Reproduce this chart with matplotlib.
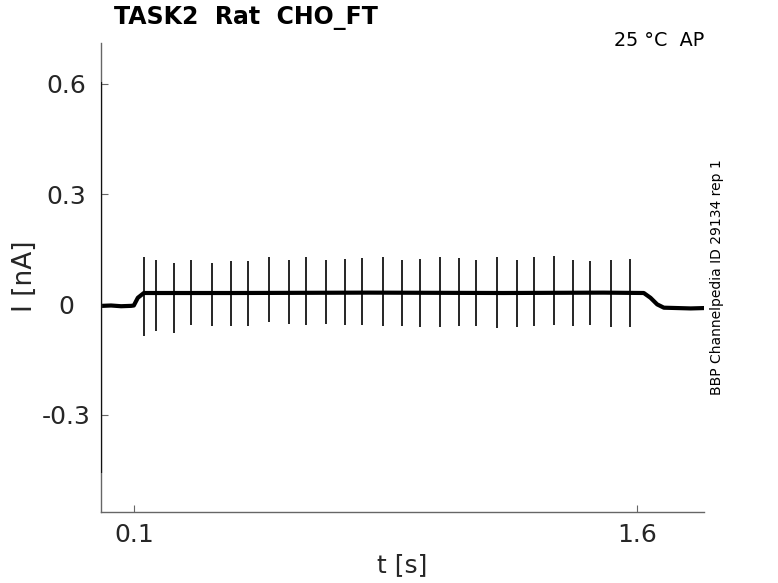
import numpy as np
import matplotlib
matplotlib.use("Agg")
import matplotlib.pyplot as plt

# Baseline / holding current (t in s, I in nA)
base_t = [0.0, 0.005, 0.03, 0.06, 0.09, 0.098, 0.11, 0.128, 0.4, 0.8, 1.2, 1.5, 1.62, 1.64, 1.66, 1.68, 1.72, 1.76, 1.8]
base_i = [-0.004, -0.004, -0.003, -0.005, -0.004, -0.003, 0.018, 0.031, 0.031, 0.032, 0.031, 0.032, 0.031, 0.018, 0.0, -0.009, -0.010, -0.011, -0.010]

# Capacitive transient at the start of the sweep
trans_t = 0.001
trans_max = 0.605
trans_min = -0.46

# Action-potential spikes: time, peak and trough
spike_t = [0.127, 0.163, 0.217, 0.270, 0.330, 0.387, 0.438, 0.500, 0.560,
           0.611, 0.671, 0.727, 0.778, 0.841, 0.898, 0.952, 1.011, 1.068,
           1.119, 1.182, 1.241, 1.292, 1.352, 1.409, 1.459, 1.522, 1.579]
spike_max = [0.130, 0.120, 0.114, 0.121, 0.114, 0.117, 0.118, 0.128, 0.121,
             0.130, 0.120, 0.124, 0.126, 0.128, 0.121, 0.124, 0.128, 0.125,
             0.122, 0.128, 0.121, 0.130, 0.132, 0.121, 0.117, 0.121, 0.123]
spike_min = [-0.086, -0.073, -0.077, -0.055, -0.060, -0.059, -0.060, -0.049, -0.054,
             -0.057, -0.054, -0.057, -0.057, -0.060, -0.059, -0.062, -0.062, -0.060,
             -0.060, -0.063, -0.061, -0.059, -0.057, -0.059, -0.057, -0.061, -0.062]

fig = plt.figure(figsize=(7.78, 5.83), dpi=100)
ax = fig.add_axes([0.1298, 0.1218, 0.7752, 0.8042])

# baseline drawn thick to look like the noisy band
ax.plot(base_t, base_i, color="black", linewidth=3.0, solid_capstyle="butt")
ax.vlines(trans_t, trans_min, trans_max, color="#111111", linewidth=1.6, zorder=3)
ax.vlines(spike_t, spike_min, spike_max, color="black", linewidth=1.2)

ax.set_xlim(0, 1.8)
ax.set_ylim(-0.565, 0.711)
ax.set_xticks([0.1, 1.6])
ax.set_xticklabels(["0.1", "1.6"])
ax.set_yticks([-0.3, 0, 0.3, 0.6])
ax.set_yticklabels(["-0.3", "0", "0.3", "0.6"])

for s in ["top", "right"]:
    ax.spines[s].set_visible(False)
for s in ["left", "bottom"]:
    ax.spines[s].set_color("#666666")
    ax.spines[s].set_linewidth(1.0)
ax.tick_params(direction="in", length=5, color="#666666", labelsize=18,
               labelcolor="#262626")
ax.tick_params(axis="y", pad=25)
ax.tick_params(axis="x", pad=8)
for lab in ax.get_yticklabels():
    lab.set_horizontalalignment("center")

ax.set_xlabel("t [s]", fontsize=18, color="#262626", labelpad=4)
ax.set_ylabel("I [nA]", fontsize=19, color="#262626")
ax.yaxis.set_label_coords(-0.104, 0.503)

fig.text(0.147, 0.969, "TASK2  Rat  CHO_FT", fontsize=17, fontweight="bold",
         ha="left", va="center")
fig.text(0.905, 0.931, "25 °C  AP", fontsize=13.8, ha="right", va="center")
fig.text(0.922, 0.525, "BBP Channelpedia ID 29134 rep 1", fontsize=10,
         rotation=90, ha="center", va="center")

fig.savefig("out.png", dpi=100)
